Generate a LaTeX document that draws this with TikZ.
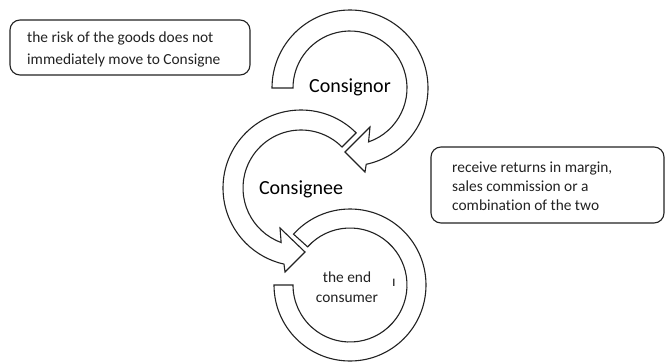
\documentclass[tikz,border=0pt]{standalone}
\usepackage{fontspec}
\setmainfont{Carlito}[Ligatures={NoCommon,NoDiscretionary,NoContextual}]
\usetikzlibrary{calc}
\definecolor{ink}{HTML}{222222}
\begin{document}
\begin{tikzpicture}[x=1pt,y=-1pt,
  ring/.style={draw=ink, line width=1.1pt, fill=white, line join=miter},
  note/.style={draw=ink, line width=1.1pt, rounded corners=10pt, fill=white},
  big/.style={font=\fontsize{20}{24}\selectfont, text=black, inner sep=0pt},
  small/.style={font=\fontsize{15.4}{20}\selectfont, text=ink, inner sep=0pt, align=left}]
\useasboundingbox (0,0) rectangle (667,362);
\fill[white] (0,0) rectangle (667,362);

% ring 3 (end consumer)
\coordinate (c3) at (350,285);
\draw[ring] ($(c3)+(180:76)$) arc[start angle=180, end angle=-138, radius=76]
  -- ($(c3)+(-138:57)$) arc[start angle=-138, end angle=180, radius=57] -- cycle;

% ring 2 (Consignee)
\coordinate (c2) at (301,188);
\draw[ring] ($(c2)+(315:78)$) arc[start angle=315, end angle=102.6, radius=78]
  -- (285,272) -- (305,252) -- (280,228)
  -- ($(c2)+(110:58)$) arc[start angle=110, end angle=315, radius=58] -- cycle;

% ring 1 (Consignor)
\coordinate (c1) at (350,88);
\draw[ring] ($(c1)+(180:78)$) arc[start angle=180, end angle=438, radius=78]
  -- (365,172) -- (345,152) -- (370,127)
  -- ($(c1)+(431:57)$) arc[start angle=431, end angle=180, radius=57] -- cycle;

\node[big] (consignor) at (350,87) {Consignor};
\node[big] (consignee) at (301,189) {Consignee};
\node[small, align=center, font=\fontsize{15.4}{20}\selectfont] (consumer) at (347,287) {the end\\consumer};
\node[small] (mark) at (394,283) {ı};

% note boxes
\draw[note] (10,20) rectangle (250,75);
\node[small, anchor=west, font=\fontsize{15.4}{22}\selectfont] (risk) at (27,49) {the risk of the goods does not\\immediately move to Consigne};

\draw[note] (431,147) rectangle (664,223);
\node[small, anchor=west, font=\fontsize{15.4}{19}\selectfont] (returns) at (452,186) {receive returns in margin,\\sales commission or a\\combination of the two};
\end{tikzpicture}
\end{document}
